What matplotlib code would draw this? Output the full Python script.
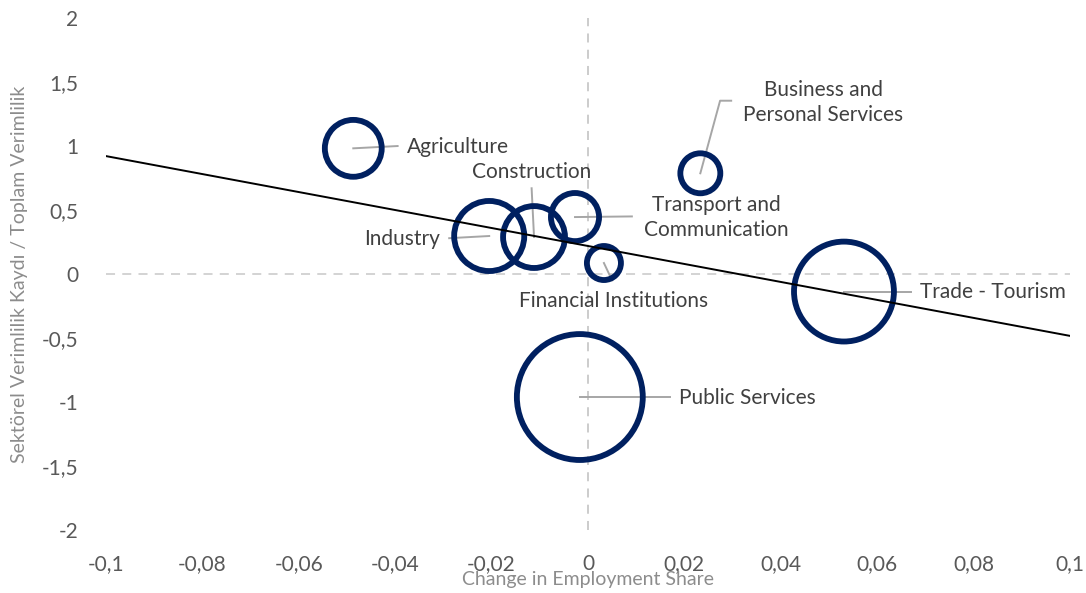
import numpy as np
import matplotlib
matplotlib.use("Agg")
import matplotlib.pyplot as plt
from matplotlib.ticker import FuncFormatter

plt.rcParams['font.family'] = ['Lato', 'DejaVu Sans']

# Data
sectors = ["Agriculture", "Industry", "Construction", "Transport and\nCommunication",
           "Financial Institutions", "Business and\nPersonal Services",
           "Trade - Tourism", "Public Services"]
emp_change = [-0.0487, -0.0205, -0.0112, -0.0027, 0.0033, 0.0233, 0.0531, -0.0017]
prod_ratio = [0.982, 0.297, 0.289, 0.445, 0.086, 0.787, -0.137, -0.961]
bubble_value = [8.1, 12.3, 9.6, 5.8, 2.9, 4.0, 25.0, 39.7]

x_ticks = [-0.1, -0.08, -0.06, -0.04, -0.02, 0, 0.02, 0.04, 0.06, 0.08, 0.1]
y_ticks = [-2, -1.5, -1, -0.5, 0, 0.5, 1, 1.5, 2]

# label placement: (text x, text y, leader end x, leader end y, ha)
label_pos = {
    "Agriculture": (-0.0376, 0.99, -0.0395, 1.0, "left"),
    "Industry": (-0.0307, 0.27, -0.0288, 0.28, "right"),
    "Construction": (-0.0117, 0.80, -0.0117, 0.67, "center"),
    "Transport and\nCommunication": (0.0266, 0.44, 0.0091, 0.45, "center"),
    "Financial Institutions": (0.0054, -0.21, 0.0050, -0.05, "center"),
    "Business and\nPersonal Services": (0.0488, 1.34, 0.0297, 1.354, "center"),
    "Trade - Tourism": (0.0689, -0.14, 0.0670, -0.137, "left"),
    "Public Services": (0.0189, -0.97, 0.0170, -0.961, "left"),
}

fig = plt.figure(figsize=(10.86, 5.93), dpi=100)
ax = fig.add_axes([0.0976, 0.1062, 0.8877, 0.8634])

ax.axhline(0, color="#D0D0D0", lw=1.3, ls=(0, (5, 4)), zorder=1)
ax.axvline(0, color="#C8C8C8", lw=1.3, ls=(0, (5, 4)), zorder=1)

# leader lines
for name, x, y in zip(sectors, emp_change, prod_ratio):
    tx, ty, lx, ly, ha = label_pos[name]
    if name.startswith("Business"):
        ax.plot([x, 0.0274, lx], [y, ly, ly], color="#A6A6A6", lw=1.4, zorder=2)
    else:
        ax.plot([x, lx], [y, ly], color="#A6A6A6", lw=1.4, zorder=2)
    ax.text(tx, ty, name, ha=ha, va="center", fontsize=15, color="#404040",
            linespacing=1.3, zorder=5)

ax.scatter(emp_change, prod_ratio, s=np.array(bubble_value) * 207,
           facecolors="none", edgecolors="#002060", linewidths=4.2, zorder=3)

# linear trendline
coef = np.polyfit(emp_change, prod_ratio, 1)
tx = np.array([-0.1, 0.1])
ax.plot(tx, np.polyval(coef, tx), color="black", lw=1.4, zorder=4)

ax.set_xlim(-0.1, 0.1)
ax.set_ylim(-2, 2)
ax.set_xticks(x_ticks)
ax.set_yticks(y_ticks)
fmt = FuncFormatter(lambda v, p: ("%g" % v).replace(".", ","))
ax.xaxis.set_major_formatter(fmt)
ax.yaxis.set_major_formatter(fmt)
ax.tick_params(length=0, labelsize=15, labelcolor="#595959")
ax.tick_params(axis="x", pad=17)
ax.tick_params(axis="y", pad=20)
for s in ax.spines.values():
    s.set_visible(False)

ax.set_xlabel("Change in Employment Share", fontsize=14, color="#8C8C8C", labelpad=-2)
ax.set_ylabel("Sektörel Verimlilik Kaydı / Toplam Verimlilik", fontsize=14,
              color="#8C8C8C", labelpad=10)

fig.savefig("out.png", dpi=100)
